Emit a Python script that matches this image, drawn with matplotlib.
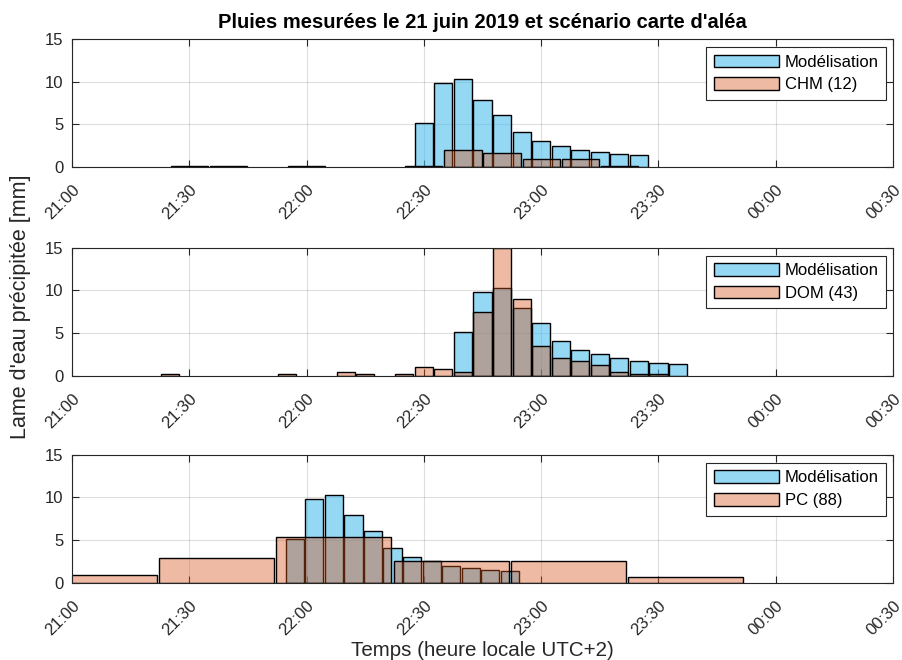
import matplotlib.pyplot as plt

plt.rcParams['font.family'] = ['Liberation Sans', 'DejaVu Sans']

# Modélisation, pas de 5 min (mm)
model_vals = [5.1, 9.8, 10.3, 7.9, 6.1, 4.1, 3.0, 2.5, 2.0, 1.7, 1.5, 1.4]
model_times_chm = ['22:30', '22:35', '22:40', '22:45', '22:50', '22:55',
                   '23:00', '23:05', '23:10', '23:15', '23:20', '23:25']
model_times_dom = ['22:40', '22:45', '22:50', '22:55', '23:00', '23:05',
                   '23:10', '23:15', '23:20', '23:25', '23:30', '23:35']
model_times_pc = ['21:57', '22:02', '22:07', '22:12', '22:17', '22:22',
                  '22:27', '22:32', '22:37', '22:42', '22:47', '22:52']

# mesures CHM (pas de 10 min)
chm_times = ['21:30', '21:40', '22:00', '22:30', '22:40', '22:50', '23:00', '23:10', '23:20']
chm_vals = [0.1, 0.1, 0.1, 0.1, 1.95, 1.6, 0.95, 0.95, 0.1]

# mesures DOM (pas de 5 min)
dom_times = ['21:25', '21:55', '22:10', '22:15', '22:25', '22:30', '22:35', '22:40', '22:45',
             '22:50', '22:55', '23:00', '23:05', '23:10', '23:15', '23:20', '23:25', '23:30']
dom_vals = [0.2, 0.2, 0.45, 0.2, 0.2, 0.95, 0.75, 0.45, 7.5,
            14.9, 9.0, 3.4, 2.1, 1.65, 1.2, 0.45, 0.2, 0.15]

# mesures PC (pas de 30 min)
pc_times = ['21:07', '21:37', '22:07', '22:37', '23:07', '23:37']
pc_vals = [0.9, 2.9, 5.3, 2.6, 2.6, 0.65]

tick_labels = ['21:00', '21:30', '22:00', '22:30', '23:00', '23:30', '00:00', '00:30']


def to_min(s):
    h, m = map(int, s.split(':'))
    return ((h - 21) % 24) * 60 + m


blue = (0.301, 0.745, 0.933, 0.6)
orange = (0.85, 0.325, 0.098, 0.4)
dark = (0.15, 0.15, 0.15)

panels = [
    (model_times_chm, chm_times, chm_vals, 9.5, 'CHM (12)'),
    (model_times_dom, dom_times, dom_vals, 4.65, 'DOM (43)'),
    (model_times_pc, pc_times, pc_vals, 29.4, 'PC (88)'),
]

fig = plt.figure(figsize=(9.03, 6.6), dpi=100)
left = 72 / 903
width = 821 / 903
bottoms = [1 - 167 / 660, 1 - 375.5 / 660, 1 - 582.7 / 660]
height = 128 / 660

axes = []
for (mt, ot, ov, ow, lab), b in zip(panels, bottoms):
    ax = fig.add_axes([left, b, width, height])
    ax.bar([to_min(t) for t in mt], model_vals, width=4.65, color=blue,
           edgecolor='k', linewidth=1.0, label='Modélisation')
    ax.bar([to_min(t) for t in ot], ov, width=ow, color=orange,
           edgecolor='k', linewidth=1.0, label=lab)
    ax.set_xlim(0, 210)
    ax.set_ylim(0, 15)
    ax.set_yticks([0, 5, 10, 15])
    ax.set_xticks([to_min(t) for t in tick_labels])
    ax.set_xticklabels(tick_labels, rotation=45, ha='right', va='top',
                       rotation_mode='anchor')
    ax.grid(True, color=dark, alpha=0.15, linewidth=0.8)
    ax.set_axisbelow(True)
    ax.tick_params(direction='in', length=5, width=0.8, top=True, right=True,
                   labelsize=12, colors=dark)
    ax.tick_params(axis='x', pad=11)
    ax.tick_params(axis='y', pad=6)
    for sp in ax.spines.values():
        sp.set_color(dark)
        sp.set_linewidth(0.8)
    leg = ax.legend(loc='upper right', bbox_to_anchor=(0.9915, 0.9375), borderaxespad=0,
                    fontsize=12, fancybox=False, framealpha=1, edgecolor=dark,
                    handlelength=3.9, handleheight=0.8, handletextpad=0.35,
                    labelspacing=0.45, borderpad=0.45)
    leg.get_frame().set_linewidth(0.8)
    axes.append(ax)

axes[0].set_title("Pluies mesurées le 21 juin 2019 et scénario carte d'aléa",
                  fontweight='bold', fontsize=14.5, pad=8)
fig.text(0.023, 0.535, "Lame d'eau précipitée [mm]", rotation=90, va='center', ha='center',
         fontsize=15.5, color=dark)
fig.text(482.5 / 903, 1 - 650 / 660, 'Temps (heure locale UTC+2)', va='center', ha='center',
         fontsize=14.8, color=dark)

fig.savefig('out.png', dpi=100)
